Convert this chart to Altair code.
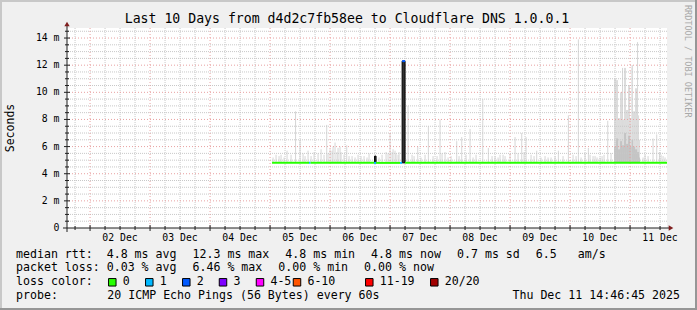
import altair as alt
import pandas as pd
import numpy as np

# ---------------- data ----------------
T_START = "12-01 14:46:45"
T_END = "12-11 14:46:45"

# smoke spikes (time, top of smoke in ms)
smoke_time = ["12-05 02:24", "12-05 04:24", "12-05 06:48", "12-05 10:12", "12-05 12:00",
              "12-05 14:00", "12-05 15:12", "12-05 17:36", "12-05 19:12", "12-05 20:24",
              "12-05 22:40", "12-06 00:00", "12-06 01:12", "12-06 02:00", "12-06 03:12",
              "12-06 04:24", "12-06 06:40", "12-06 08:48", "12-06 11:12", "12-06 13:36",
              "12-06 15:36", "12-06 18:00", "12-06 20:48", "12-06 22:24", "12-07 00:00",
              "12-07 01:12", "12-07 02:24", "12-07 03:36", "12-07 07:12", "12-07 08:48",
              "12-07 11:05", "12-07 14:00", "12-07 15:20", "12-07 17:12", "12-07 20:00",
              "12-07 22:00", "12-08 00:24", "12-08 02:40", "12-08 04:40", "12-08 06:24",
              "12-08 08:00", "12-08 10:24", "12-08 13:05", "12-08 15:20", "12-08 18:00",
              "12-08 20:00", "12-08 22:00", "12-09 00:00", "12-09 02:00", "12-09 04:40",
              "12-09 06:24", "12-09 08:24", "12-09 10:40", "12-09 12:24", "12-09 14:00",
              "12-09 16:24", "12-09 19:20", "12-09 21:12", "12-09 23:20", "12-10 01:12",
              "12-10 03:20", "12-10 06:00", "12-10 07:20", "12-10 09:12", "12-10 10:48",
              "12-10 12:00", "12-10 13:36", "12-10 15:05", "12-10 16:24", "12-10 21:00",
              "12-11 00:50", "12-11 03:00", "12-11 06:00", "12-11 09:12", "12-11 10:40",
              "12-11 11:45", "12-11 13:12"]
smoke_top = [5.4, 5.4, 5.7, 8.6, 6.5,
             5.3, 5.7, 5.6, 5.5, 5.8,
             7.6, 5.8, 6.0, 6.3, 5.9,
             5.6, 6.1, 5.3, 5.4, 5.3,
             5.5, 5.3, 5.4, 5.6, 7.0,
             5.8, 5.5, 5.6, 9.0, 5.4,
             6.0, 5.4, 7.5, 5.3, 8.0,
             5.6, 5.3, 6.4, 6.7, 5.4,
             7.3, 5.4, 9.5, 5.9, 5.3,
             5.4, 5.3, 5.5, 6.7, 7.0,
             6.7, 5.4, 5.7, 5.2, 5.3,
             5.2, 5.7, 5.3, 8.3, 5.4,
             13.9, 5.5, 5.9, 5.3, 5.2,
             5.2, 5.4, 7.9, 5.5, 11.8,
             11.8, 13.7, 5.4, 6.6, 6.9,
             5.6, 5.3]

# low smoke noise just above the median
noise_time = ["12-05 01:12", "12-05 03:36", "12-05 05:36", "12-05 08:24", "12-05 13:12",
              "12-05 16:24", "12-05 21:36", "12-05 23:12", "12-06 00:48", "12-06 02:48",
              "12-06 04:00", "12-06 05:36", "12-06 07:36", "12-06 10:00", "12-06 12:24",
              "12-06 14:48", "12-06 19:36", "12-06 23:12", "12-07 00:48", "12-07 02:00",
              "12-07 03:12", "12-07 09:36", "12-07 12:24", "12-07 18:48", "12-07 20:48",
              "12-07 23:12", "12-08 03:36", "12-08 09:12", "12-08 16:48", "12-08 19:12",
              "12-08 21:12", "12-09 03:12", "12-09 05:36", "12-09 09:36", "12-09 15:12",
              "12-09 18:00", "12-10 02:24", "12-10 04:24", "12-10 08:00", "12-10 10:00",
              "12-10 12:48", "12-11 05:12", "12-11 07:12", "12-11 12:24", "12-11 14:00"]
noise_top = [5.2, 5.3, 5.2, 5.4, 5.5,
             5.3, 5.4, 5.5, 5.7, 5.6,
             6.0, 5.4, 5.3, 5.2, 5.3,
             5.2, 5.2, 5.5, 5.6, 5.7,
             5.4, 5.3, 5.2, 5.3, 5.5,
             5.2, 5.3, 5.2, 5.3, 5.2,
             5.4, 5.5, 5.6, 5.3, 5.2,
             5.3, 5.3, 5.2, 5.4, 5.3,
             5.3, 5.2, 5.3, 5.4, 5.2]

# dense smoke block on 10/11 Dec (column start, light top, dark top)
dense_time = ["12-10 17:36", "12-10 18:24", "12-10 19:12", "12-10 20:00", "12-10 20:48",
              "12-10 21:36", "12-10 22:24", "12-10 23:12", "12-11 00:00", "12-11 00:36",
              "12-11 01:12", "12-11 02:00", "12-11 02:48", "12-11 03:36", "12-11 04:00"]
dense_top = [11.0, 10.9, 8.1, 10.0, 8.0, 11.8, 8.7, 10.5, 8.1, 12.0, 8.6, 10.3, 8.3, 6.5]
dense_dark = [6.0, 6.6, 5.8, 6.4, 6.1, 7.0, 6.2, 6.8, 6.0, 6.5, 6.0, 5.8, 5.6, 5.2]

# median rtt segments coloured by loss
seg_start = ["12-05 00:48", "12-05 15:36", "12-05 16:12", "12-06 17:36", "12-06 18:24",
             "12-07 04:00", "12-07 04:50", "12-07 06:00"]
seg_end = ["12-05 15:36", "12-05 16:12", "12-06 17:36", "12-06 18:24", "12-07 04:00",
           "12-07 04:50", "12-07 06:00", "12-11 14:46:45"]
seg_value = [4.8, 4.8, 4.8, 4.8, 4.8, 4.8, 12.3, 4.8]
seg_loss = ["0", "1", "0", "1", "0", "1", "2", "0"]

# dense pings (dark columns)
dark_start = ["12-06 17:48", "12-07 04:50"]
dark_end = ["12-06 18:24", "12-07 06:00"]
dark_low = [4.8, 4.8]
dark_high = [5.3, 12.3]

loss_labels = ["0", "1", "2", "3", "4-5", "6-10", "11-19", "20/20"]
loss_colors = ["#26ff00", "#00b8ff", "#0059ff", "#7e00ff", "#ff00ff", "#ff5500", "#ff0000", "#a10000"]

title_text = "Last 10 Days from d4d2c7fb58ee to Cloudflare DNS 1.0.0.1"
row1 = ["median rtt:", "4.8 ms avg", "12.3 ms max", "4.8 ms min", "4.8 ms now", "0.7 ms sd", "6.5", "am/s"]
row2 = ["packet loss:", "0.03 % avg", "6.46 % max", "0.00 % min", "0.00 % now"]
row4 = ["probe:", "20 ICMP Echo Pings (56 Bytes) every 60s"]
stamp = "Thu Dec 11 14:46:45 2025"
watermark = "RRDTOOL / TOBI OETIKER"
ytitle = "Seconds"

# ---------------- helpers ----------------
BASE = pd.Timestamp("2025-12-01 00:00:00")


def hrs(s):
    return (pd.Timestamp("2025-" + s) - BASE).total_seconds() / 3600.0


h0, h1 = hrs(T_START), hrs(T_END)
YMAX = 14.74
MONO = "DejaVu Sans Mono"
xs = alt.Scale(domain=[h0, h1], nice=False, zero=False)
ys = alt.Scale(domain=[0, YMAX], nice=False, zero=False)
NOX = dict(scale=xs, axis=None, title=None)
NOY = dict(scale=ys, axis=None, title=None)

smoke = pd.DataFrame({"h": [hrs(t) for t in smoke_time + noise_time],
                      "top": smoke_top + noise_top, "base": 4.8})
dts = [hrs(t) for t in dense_time]
dense = pd.DataFrame({"h": dts[:-1], "h2": dts[1:], "top": dense_top, "dark": dense_dark, "base": 4.8})
segs = pd.DataFrame({"h": [hrs(t) for t in seg_start], "h2": [hrs(t) for t in seg_end],
                     "v": seg_value, "loss": seg_loss})
dark = pd.DataFrame({"h": [hrs(t) for t in dark_start], "h2": [hrs(t) for t in dark_end],
                     "lo": dark_low, "hi": dark_high})

day_hours = list(np.arange(24, h1, 24))
six_hours = [v for v in np.arange(18, h1, 6) if v % 24 != 0]
label_hours = list(np.arange(36, h1, 24))
half_m = [v for v in np.arange(0.5, YMAX, 0.5) if v % 2 != 0]
two_m = list(np.arange(2, YMAX, 2))

MINOR = "#c8c8c8"
MAJOR = "#e8a0a0"

xg_minor = alt.Chart(pd.DataFrame({"h": six_hours})).mark_rule(
    color=MINOR, strokeDash=[1, 1], strokeWidth=1).encode(x=alt.X("h:Q", **NOX))
xg_major = alt.Chart(pd.DataFrame({"h": day_hours})).mark_rule(
    color=MAJOR, strokeDash=[1, 2], strokeWidth=1).encode(x=alt.X("h:Q", **NOX))
yg_minor = alt.Chart(pd.DataFrame({"v": half_m})).mark_rule(
    color=MINOR, strokeDash=[1, 1], strokeWidth=1).encode(y=alt.Y("v:Q", **NOY))
yg_major = alt.Chart(pd.DataFrame({"v": two_m})).mark_rule(
    color=MAJOR, strokeDash=[1, 2], strokeWidth=1).encode(y=alt.Y("v:Q", **NOY))

# axis tick labels drawn as text on the data scales
xlab = pd.DataFrame({"h": label_hours,
                     "t": ["%02d Dec" % (int(v // 24) + 1) for v in label_hours]})
xlab_l = alt.Chart(xlab).mark_text(font=MONO, fontSize=9.8, color="#000000", baseline="middle",
                                   align="center").encode(
    x=alt.X("h:Q", **NOX), y=alt.value(209.5), text="t:N")
ylab = pd.DataFrame({"v": [0] + two_m,
                     "t": ["0\u00a0\u00a0"] + ["%d m" % v for v in two_m]})
ylab_l = alt.Chart(ylab).mark_text(font=MONO, fontSize=9.8, color="#000000", baseline="middle",
                                   align="right").encode(
    y=alt.Y("v:Q", **NOY), x=alt.value(-7.5), text="t:N")

# axis ticks
xtick_minor = alt.Chart(pd.DataFrame({"h": six_hours})).mark_rule(color="#1f1f1f").encode(
    x=alt.X("h:Q", **NOX), y=alt.value(198), y2=alt.value(202))
xtick_major = alt.Chart(pd.DataFrame({"h": day_hours})).mark_rule(color="#1f1f1f").encode(
    x=alt.X("h:Q", **NOX), y=alt.value(197), y2=alt.value(203))
ytick_minor = alt.Chart(pd.DataFrame({"v": half_m})).mark_rule(color="#1f1f1f").encode(
    y=alt.Y("v:Q", **NOY), x=alt.value(-2), x2=alt.value(2))
ytick_major = alt.Chart(pd.DataFrame({"v": two_m})).mark_rule(color="#1f1f1f").encode(
    y=alt.Y("v:Q", **NOY), x=alt.value(-3), x2=alt.value(3))

smoke_l = alt.Chart(smoke).mark_rule(color="#d6d6d6", strokeWidth=1).encode(
    x=alt.X("h:Q", **NOX), y=alt.Y("base:Q", **NOY), y2="top:Q")
dense_l = alt.Chart(dense).mark_rect(color="#dcdcdc").encode(
    x=alt.X("h:Q", **NOX), x2="h2:Q", y=alt.Y("base:Q", **NOY), y2="top:Q")
dense_d = alt.Chart(dense).mark_rect(color="#c4c4c4").encode(
    x=alt.X("h:Q", **NOX), x2="h2:Q", y=alt.Y("base:Q", **NOY), y2="dark:Q")
dark_l = alt.Chart(dark).mark_rect(color="#333333", stroke="#000000", strokeWidth=1).encode(
    x=alt.X("h:Q", **NOX), x2="h2:Q", y=alt.Y("lo:Q", **NOY), y2="hi:Q")
med_l = alt.Chart(segs).mark_rule(strokeWidth=2).encode(
    x=alt.X("h:Q", **NOX), x2="h2:Q", y=alt.Y("v:Q", **NOY),
    color=alt.Color("loss:N", scale=alt.Scale(domain=loss_labels, range=loss_colors), legend=None))

# ---- decoration in pixel space (plot origin at 67,28) ----
PX = dict(scale=None, axis=None, title=None)

axis_lines = alt.Chart(pd.DataFrame([
    {"x": -4, "x2": 604, "y": 200, "y2": 200},
    {"x": 0, "x2": 0, "y": 204, "y2": -3},
])).mark_rule(color="#1f1f1f", strokeWidth=1).encode(
    x=alt.X("x:Q", **PX), x2="x2:Q", y=alt.Y("y:Q", **PX), y2="y2:Q")

arrows = alt.Chart(pd.DataFrame([
    {"x": 604, "y": 200, "s": "triangle-right"},
    {"x": 0, "y": -4, "s": "triangle-up"},
])).mark_point(filled=True, color="#7f1f1f", size=28, opacity=1).encode(
    x=alt.X("x:Q", **PX), y=alt.Y("y:Q", **PX), shape=alt.Shape("s:N", scale=None, legend=None))

frame = alt.Chart(pd.DataFrame([
    {"x": -67, "x2": 630, "y": -27, "y2": -27, "c": "#c8c8c8"},
    {"x": -66, "x2": -66, "y": -28, "y2": 282, "c": "#c8c8c8"},
    {"x": -67, "x2": 630, "y": 281, "y2": 281, "c": "#969696"},
    {"x": 629, "x2": 629, "y": -28, "y2": 282, "c": "#969696"},
])).mark_rule(strokeWidth=2).encode(
    x=alt.X("x:Q", **PX), x2="x2:Q", y=alt.Y("y:Q", **PX), y2="y2:Q",
    color=alt.Color("c:N", scale=None, legend=None))


def text_layer(rows, size, color="#000000", angle=0, align="left"):
    return alt.Chart(pd.DataFrame(rows)).mark_text(
        font=MONO, fontSize=size, color=color, angle=angle, align=align, baseline="middle").encode(
        x=alt.X("x:Q", **PX), y=alt.Y("y:Q", **PX), text="t:N")


title_l = text_layer([{"x": 280, "y": -9, "t": title_text}], 13.2, align="center")
ytitle_l = text_layer([{"x": -56.5, "y": 100, "t": ytitle}], 11.5, angle=270, align="center")
wm_l = text_layer([{"x": 620.5, "y": -23, "t": watermark}], 8.5, color="#a8a8a8", angle=90)

ox = -67
r1x = [16, 192.5, 285.3, 371.1, 457, 535.8, 577.7]
r1x = [16, 106.7] + r1x[1:]
r2x = [16, 106.7, 192.5, 278.3, 364.1]
rows = []
for t, x in zip(row1, r1x):
    rows.append({"x": x + ox, "y": 227, "t": t})
for t, x in zip(row2, r2x):
    rows.append({"x": x + ox, "y": 240.3, "t": t})
rows.append({"x": 16 + ox, "y": 254.3, "t": "loss color:"})
for t, x in zip(row4, [16, 107.3]):
    rows.append({"x": x + ox, "y": 268, "t": t})
sq_x = [112.3, 149.3, 186.3, 223, 260, 297, 369.3, 434.3]
for t, x in zip(loss_labels, sq_x):
    rows.append({"x": x + 10.4 + ox, "y": 254.3, "t": t})
legend_text = text_layer(rows, 11.6)
stamp_l = text_layer([{"x": 680 + ox, "y": 268, "t": stamp}], 11.6, align="right")

squares = alt.Chart(pd.DataFrame({"x": [v + ox for v in sq_x], "y": 254.3, "c": loss_colors})).mark_point(
    shape="square", filled=True, size=56, stroke="#000000", strokeWidth=1, opacity=1).encode(
    x=alt.X("x:Q", **PX), y=alt.Y("y:Q", **PX), fill=alt.Fill("c:N", scale=None, legend=None))

chart = alt.layer(
    smoke_l, dense_l, dense_d,
    xg_minor, yg_minor, xg_major, yg_major,
    dark_l, med_l,
    axis_lines, xtick_minor, xtick_major, ytick_minor, ytick_major, arrows, frame,
    xlab_l, ylab_l,
    title_l, ytitle_l, wm_l, legend_text, stamp_l, squares,
).properties(
    width=600, height=200,
    autosize=alt.AutoSizeParams(type="none"),
    padding={"left": 67, "top": 28, "right": 30, "bottom": 82},
).configure(background="#f0f0f0").configure_view(fill="#ffffff", stroke=None)

chart.save("out.html", embed_options={"renderer": "svg", "actions": False})
